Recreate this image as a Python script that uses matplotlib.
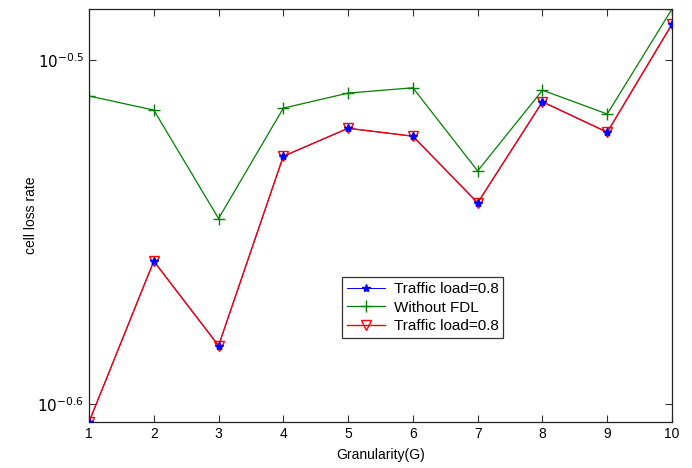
import numpy as np
import matplotlib
matplotlib.use('Agg')
import matplotlib.pyplot as plt
from matplotlib.ticker import FixedLocator, NullLocator

plt.rcParams['font.family'] = ['Liberation Sans', 'DejaVu Sans']

# granularity values
G = [1, 2, 3, 4, 5, 6, 7, 8, 9, 10]
# cell loss rate
load_blue = [0.2482, 0.2764, 0.2612, 0.2965, 0.3021, 0.3005, 0.2874, 0.3075, 0.3013, 0.3239]
no_fdl = [0.3087, 0.3058, 0.2844, 0.3062, 0.3093, 0.3104, 0.2936, 0.3099, 0.3050, 0.3272]
load_red = [0.2482, 0.2764, 0.2612, 0.2965, 0.3021, 0.3005, 0.2874, 0.3075, 0.3013, 0.3239]
labels = ['Traffic load=0.8', 'Without FDL', 'Traffic load=0.8']
ytick_vals = [10 ** -0.6, 10 ** -0.5]
ytick_labels = [r'$10^{-0.6}$', r'$10^{-0.5}$']

fig = plt.figure(figsize=(6.92, 4.68), dpi=100)
ax = fig.add_axes([89 / 692, 46 / 468, 583 / 692, 413 / 468])

ax.plot(G, load_blue, color='blue', lw=0.7, marker='*', ms=6, label=labels[0], zorder=2)
ax.plot(G, no_fdl, color='#008000', lw=0.9, marker='+', ms=8, mew=1, label=labels[1], zorder=2)
ax.plot(G, load_red, color='red', lw=1.0, marker='v', ms=7, mfc='none', mew=1, label=labels[2], zorder=2.5)
# blue stars sit inside the red triangles
ax.plot(G, load_blue, color='blue', ls='none', marker='*', ms=6, zorder=3)

ax.set_yscale('log')
ax.set_xlim(1, 10)
ax.set_ylim(min(load_red), max(no_fdl))
ax.xaxis.set_major_locator(FixedLocator(G))
ax.yaxis.set_major_locator(FixedLocator(ytick_vals))
ax.yaxis.set_minor_locator(NullLocator())
ax.set_yticklabels(ytick_labels)
ax.tick_params(direction='in', top=True, right=True, length=5, width=0.8,
               labelsize=10, color='#333333')
ax.tick_params(axis='y', labelsize=11)
for s in ax.spines.values():
    s.set_linewidth(0.9)
    s.set_color('#222222')

ax.set_xlabel('Granularity(G)', fontsize=10, labelpad=5)
ax.set_ylabel('cell loss rate', fontsize=10)
ax.yaxis.set_label_coords(-0.088, 0.5)

leg = ax.legend(loc='upper left', bbox_to_anchor=(0.434, 0.350), fontsize=11,
                frameon=True, fancybox=False, edgecolor='#333333', framealpha=1,
                borderaxespad=0, handlelength=2.5, borderpad=0.3, labelspacing=0.3,
                handletextpad=0.6)
leg.get_frame().set_linewidth(0.9)

fig.savefig('out.png', dpi=100)
